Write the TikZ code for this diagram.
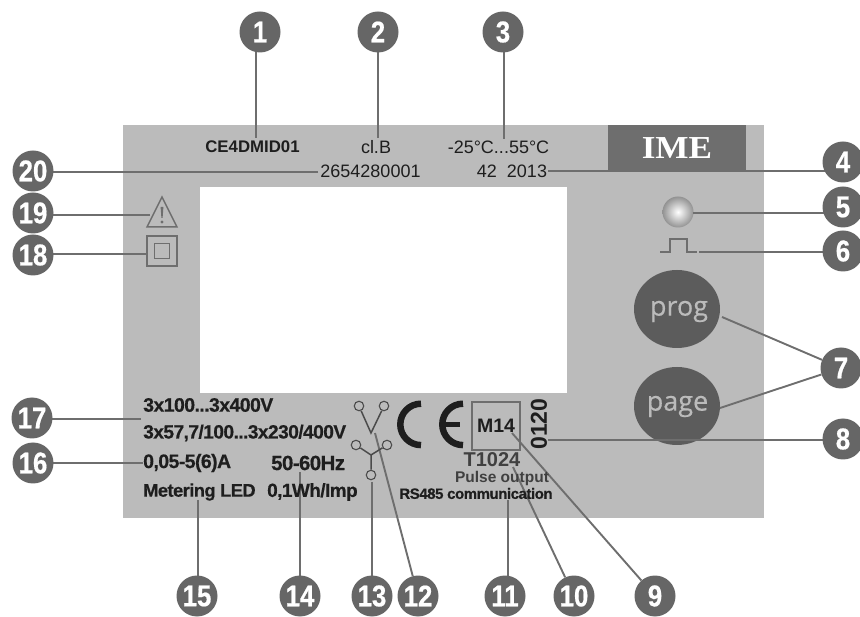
\documentclass[tikz,border=0pt]{standalone}
\usepackage{fontspec}
\setmainfont{Liberation Sans}
\newfontfamily\seriffont[FakeStretch=1.1]{Liberation Serif}
\newfontfamily\btnfont[FakeBold=0.5]{Open Sans}
\newfontfamily\numfont[FakeStretch=0.86,BoldFeatures={FakeBold=0.6}]{Liberation Sans}
\newfontfamily\tightfont[LetterSpace=-3,BoldFeatures={FakeBold=0.5}]{Liberation Sans}
\usetikzlibrary{positioning,backgrounds,shapes.geometric}
\definecolor{ink}      {HTML}{1E1E1E}
\definecolor{panel}    {HTML}{BBBBBB}
\definecolor{leader}   {HTML}{6E6E6E}
\definecolor{badge}    {HTML}{666666}
\definecolor{button}   {HTML}{5C5C5C}
\tikzset{
  every node/.style={font=\fontsize{14}{16}\selectfont, text=ink, inner sep=0pt},
  % --- nodes
  bubble/.style = {circle, fill=badge, minimum size=41pt, text=white,
                   font=\numfont\bfseries\fontsize{30}{30}\selectfont},
  spec/.style   = {font=\tightfont\bfseries\fontsize{19.5}{20}\selectfont, anchor=west},
  plain/.style  = {font=\fontsize{18}{20}\selectfont},
  btn/.style    = {ellipse, fill=button, minimum width=86pt, minimum height=78pt},
  btntxt/.style = {text=panel, font=\btnfont\fontsize{27}{27}\selectfont},
  term/.style   = {circle, draw=ink!80, line width=1.1pt, minimum size=9.5pt},
  % --- edges
  e/.style      = {line width=1.9pt, draw=leader},
  sym/.style    = {line width=1.5pt, draw=leader},
  wire/.style   = {line width=1.5pt, draw=ink!80},
  cemark/.style = {line width=6.5pt, draw=ink},
}
\begin{document}
\begin{tikzpicture}[x=1pt,y=-1pt]
  \useasboundingbox (0,0) rectangle (860,617);
  \begin{scope}[on background layer]
    \fill[panel] (123,125) rectangle (764,518);
    \fill[white] (200,187) rectangle (567,393);
    \node[fill=leader, minimum width=138pt, minimum height=47pt] (ime) at (677,148.5) {};
    \node[circle, minimum size=31pt, shading=radial, inner color=white, outer color=leader!75] (led) at (678,212) {};
    \node[btn] (prog) at (677,309) {};
    \node[btn] (page) at (677,406) {};
  \end{scope}
  \node[font=\seriffont\bfseries\fontsize{32}{32}\selectfont, text=white] (brand) at (677,148) {IME};
  \node[btntxt] (progtxt) at (679,311.5) {prog};
  \node[btntxt] (pagetxt) at (677.5,406.5) {page};

  % --- numbered badges
  \node[bubble] (b1) at (260,32) {1};
  \node[bubble] (b2) at (378,32) {2};
  \node[bubble] (b3) at (503,32) {3};
  \node[bubble] (b4) at (843,162) {4};
  \node[bubble] (b5) at (843,207) {5};
  \node[bubble] (b6) at (843,251) {6};
  \node[bubble] (b7) at (841,368) {7};
  \node[bubble] (b8) at (843,439) {8};
  \node[bubble] (b9) at (655,596) {9};
  \node[bubble] (b10) at (574,596) {10};
  \node[bubble] (b11) at (505,596) {11};
  \node[bubble] (b12) at (418,596) {12};
  \node[bubble] (b13) at (372,596) {13};
  \node[bubble] (b14) at (300,596) {14};
  \node[bubble] (b15) at (197,596) {15};
  \node[bubble] (b16) at (33,463) {16};
  \node[bubble] (b17) at (32,418) {17};
  \node[bubble] (b18) at (33,255) {18};
  \node[bubble] (b19) at (33,213) {19};
  \node[bubble] (b20) at (33,171) {20};

  % --- printed texts
  \node[font=\bfseries\fontsize{16.8}{18}\selectfont] (model) at (252.5,147) {CE4DMID01};
  \node[plain] (cls) at (376,147) {cl.B};
  \node[plain] (temp) at (498.5,147) {-25°C...55°C};
  \node[plain] (serial) at (370.5,171) {2654280001};
  \node[plain] (date) at (512,171) {42\hspace{10pt}2013};
  \node[spec] (volt) at (143,405) {3x100...3x400V};
  \node[spec, font=\tightfont\bfseries\fontsize{19.2}{20}\selectfont] (voltb) at (143,433) {3x57,7/100...3x230/400V};
  \node[spec] (amp) at (143,463) {0,05-5(6)A};
  \node[spec, font=\tightfont\bfseries\fontsize{20.5}{20}\selectfont] (freq) at (271,463) {50-60Hz};
  \node[spec, font=\tightfont\bfseries\fontsize{18.3}{20}\selectfont] (ledtxt) at (143,492) {Metering LED};
  \node[spec, font=\tightfont\bfseries\fontsize{19}{20}\selectfont] (imp) at (267,492) {0,1Wh/Imp};
  \node[font=\bfseries\fontsize{23}{23}\selectfont, rotate=90] (year) at (539,424) {0120};
  \node[draw=leader, line width=1.5pt, minimum size=48pt, font=\bfseries\fontsize{19.5}{20}\selectfont] (notified) at (496,426) {M14};
  \node[font=\bfseries\fontsize{20}{20}\selectfont, text=ink!85] (type) at (492,460) {T1024};
  \node[font=\bfseries\fontsize{15.5}{16}\selectfont, text=ink!85] (pulse) at (502,478) {Pulse output};
  \node[spec, font=\tightfont\bfseries\fontsize{15}{16}\selectfont, anchor=center] (rs) at (476,493.5) {RS485 communication};

  % --- panel symbols
  \draw[sym] (162,197) -- (147,227) -- (177,227) -- cycle;
  \fill[leader] (160.6,207) -- (163.4,207) -- (162.6,218) -- (161.4,218) -- cycle (162,222) circle (1.7pt);
  \node[draw=leader, line width=1.5pt, minimum size=30pt] (dbl) at (162,251) {};
  \node[draw=leader, line width=1.5pt, minimum size=15pt] (dbli) at (162,251) {};
  \draw[sym, line width=2pt] (660,252) -- (670,252) -- (670,239) -- (687,239) -- (687,252) -- (697,252);

  \node[term] (va) at (359,406) {};
  \node[term] (vb) at (384,406) {};
  \coordinate (vc) at (371,433);
  \draw[wire] (va) -- (vc) -- (vb);
  \node[term] (ya) at (356,445) {};
  \node[term] (yb) at (387,445) {};
  \node[term] (yc) at (371,475) {};
  \coordinate (yo) at (371,455);
  \draw[wire] (ya) -- (yo) -- (yb) (yo) -- (yc);

  \draw[cemark] (421,403.7) arc[start angle=90, end angle=270, radius=20.7pt];
  \draw[cemark] (463,403.7) arc[start angle=90, end angle=270, radius=20.7pt];
  \draw[cemark, line width=5pt] (441,424.4) -- (460,424.4);

  % --- leader ends
  \coordinate (p1) at (256,138);
  \coordinate (p2) at (378,138);
  \coordinate (p3) at (504,139);
  \coordinate (p4) at (548,171);
  \coordinate (p5) at (693,213);
  \coordinate (p6) at (699,252);
  \coordinate (p7a) at (722,317);
  \coordinate (p7b) at (720,408);
  \coordinate (p8) at (548,440);
  \coordinate (p9) at (512,433);
  \coordinate (p10) at (513,467);
  \coordinate (p11) at (508,500);
  \coordinate (p12) at (375,433);
  \coordinate (p13) at (372,482);
  \coordinate (p14) at (300,472);
  \coordinate (p15) at (198,500);
  \coordinate (p16) at (143,463);
  \coordinate (p17) at (141,419);
  \coordinate (p18) at (147,254);
  \coordinate (p19) at (150,215);
  \coordinate (p20) at (318,172);

  \begin{scope}[on background layer]
    \draw[e] (p1) -- (p1 |- b1); \draw[e] (p2) -- (p2 |- b2); \draw[e] (p3) -- (p3 |- b3);
    \draw[e] (p4) -- (p4 -| b4); \draw[e] (p5) -- (p5 -| b5); \draw[e] (p6) -- (p6 -| b6);
    \draw[e] (p7a) -- (b7); \draw[e] (p7b) -- (b7); \draw[e] (p8) -- (p8 -| b8);
    \draw[e] (p9) -- (b9); \draw[e] (p10) -- (b10); \draw[e] (p11) -- (p11 |- b11);
    \draw[e] (p12) -- (b12); \draw[e] (p13) -- (p13 |- b13); \draw[e] (p14) -- (p14 |- b14);
    \draw[e] (p15) -- (p15 |- b15); \draw[e] (p16) -- (p16 -| b16); \draw[e] (p17) -- (p17 -| b17);
    \draw[e] (p18) -- (p18 -| b18); \draw[e] (p19) -- (p19 -| b19); \draw[e] (p20) -- (p20 -| b20);
  \end{scope}
\end{tikzpicture}
\end{document}
